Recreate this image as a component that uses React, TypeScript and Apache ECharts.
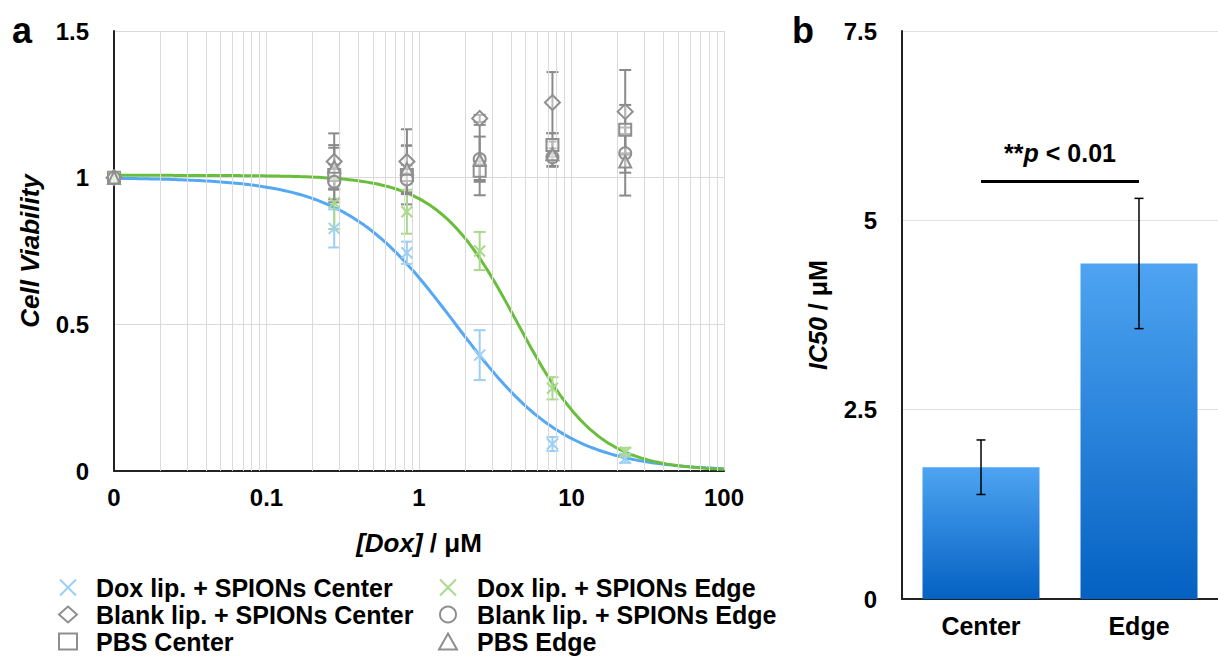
import React, { useEffect, useRef } from 'react';
import * as echarts from 'echarts';

// ---------- Panel a data ----------
const DOX_CONC = [0, 0.278, 0.833, 2.5, 7.5, 22.5]; // µM, 0 is drawn at the axis minimum
const X_AXIS_MIN = 0.01;
const X_AXIS_MAX = 100;
const X_TICK_VALUES = [0.01, 0.1, 1, 10, 100];
const X_TICK_LABELS = ['0', '0.1', '1', '10', '100'];
const X_MINOR_GRID = [
  0.02, 0.03, 0.04, 0.05, 0.06, 0.07, 0.08, 0.09,
  0.2, 0.3, 0.4, 0.5, 0.6, 0.7, 0.8, 0.9,
  2, 3, 4, 5, 6, 7, 8, 9,
  20, 30, 40, 50, 60, 70, 80, 90,
];

const DOX_CENTER_MEAN = [1.0, 0.827, 0.744, 0.395, 0.092, 0.043];
const DOX_CENTER_SD = [0, 0.065, 0.038, 0.085, 0.024, 0.015];
const DOX_EDGE_MEAN = [1.0, 0.915, 0.884, 0.75, 0.282, 0.064];
const DOX_EDGE_SD = [0, 0.09, 0.075, 0.065, 0.038, 0.015];
const BLANK_CENTER_MEAN = [1.0, 1.055, 1.055, 1.202, 1.256, 1.225];
const BLANK_CENTER_SD = [0, 0.096, 0.11, 0.012, 0.104, 0.142];
const BLANK_EDGE_MEAN = [1.0, 0.986, 0.994, 1.063, 1.07, 1.083];
const BLANK_EDGE_SD = [0, 0.06, 0.05, 0.077, 0.03, 0.066];
const PBS_CENTER_MEAN = [1.0, 1.009, 1.009, 1.024, 1.111, 1.163];
const PBS_CENTER_SD = [0, 0.093, 0.1, 0.032, 0.04, 0.085];
const PBS_EDGE_MEAN = [1.0, 1.037, 1.03, 1.06, 1.08, 1.055];
const PBS_EDGE_SD = [0, 0.074, 0.08, 0.12, 0.043, 0.116];

// ---------- Panel b data ----------
const IC50_CATEGORIES = ['Center', 'Edge'];
const IC50_MEAN = [1.74, 4.43];
const IC50_SD = [0.36, 0.86];
const SIG_LEVEL = 5.52;
const SIG_LABEL = '**p < 0.01';

// fitted dose-response (4-parameter logistic) parameters
const FIT_CENTER = { top: 1.0, bottom: 0, ic50: IC50_MEAN[0], hill: 1.19 };
const FIT_EDGE = { top: 1.008, bottom: 0, ic50: IC50_MEAN[1], hill: 1.65 };

const FONT = '"Liberation Sans", Arial, Helvetica, sans-serif';
const BLUE = '#55a8f3';
const BLUE_LIGHT = '#9ccff5';
const GREEN = '#69be3c';
const GREEN_LIGHT = '#a9da8c';
const GRAY = '#8f8f8f';

const X_SYMBOL = 'path://M0,0L10,10M10,0L0,10';

function fitCurve(p: { top: number; bottom: number; ic50: number; hill: number }) {
  const pts: number[][] = [];
  const n = 200;
  const l0 = Math.log10(X_AXIS_MIN);
  const l1 = Math.log10(X_AXIS_MAX);
  for (let i = 0; i <= n; i++) {
    const x = Math.pow(10, l0 + ((l1 - l0) * i) / n);
    const y = p.bottom + (p.top - p.bottom) / (1 + Math.pow(x / p.ic50, p.hill));
    pts.push([x, y]);
  }
  return pts;
}

const plotX = (c: number) => (c === 0 ? X_AXIS_MIN : c);

function errorBars(
  id: string,
  xs: any[],
  means: number[],
  sds: number[],
  color: string,
  axisIndex: number,
  capHalf: number,
  lineWidth: number,
  z: number,
  categorical = false
) {
  const data: number[][] = [];
  means.forEach((m, i) => {
    if (sds[i] > 0) data.push([categorical ? i : plotX(xs[i]), m - sds[i], m + sds[i]]);
  });
  return {
    id,
    type: 'custom',
    xAxisIndex: axisIndex,
    yAxisIndex: axisIndex,
    silent: true,
    z,
    encode: { x: 0, y: [1, 2] },
    data,
    renderItem: (_params: any, api: any) => {
      const x = api.value(0);
      const lo = api.coord([x, api.value(1)]);
      const hi = api.coord([x, api.value(2)]);
      const style = { stroke: color, lineWidth };
      return {
        type: 'group',
        children: [
          { type: 'line', shape: { x1: hi[0], y1: hi[1], x2: lo[0], y2: lo[1] }, style },
          { type: 'line', shape: { x1: hi[0] - capHalf, y1: hi[1], x2: hi[0] + capHalf, y2: hi[1] }, style },
          { type: 'line', shape: { x1: lo[0] - capHalf, y1: lo[1], x2: lo[0] + capHalf, y2: lo[1] }, style },
        ],
      };
    },
  };
}

function scatter(name: string, means: number[], symbol: string, size: number, color: string, fill: string) {
  return {
    name,
    type: 'scatter',
    xAxisIndex: 0,
    yAxisIndex: 0,
    symbol,
    symbolSize: size,
    z: 5,
    itemStyle: { color: fill, borderColor: color, borderWidth: 2, opacity: 1 },
    data: DOX_CONC.map((c, i) => [plotX(c), means[i]]),
  };
}

const GROUPS = [
  { name: 'Dox lip. + SPIONs Center', mean: DOX_CENTER_MEAN, sd: DOX_CENTER_SD, symbol: X_SYMBOL, size: 11, color: BLUE_LIGHT, fill: 'rgba(0,0,0,0)' },
  { name: 'Blank lip. + SPIONs Center', mean: BLANK_CENTER_MEAN, sd: BLANK_CENTER_SD, symbol: 'diamond', size: 15, color: GRAY, fill: 'rgba(255,255,255,0.4)' },
  { name: 'PBS Center', mean: PBS_CENTER_MEAN, sd: PBS_CENTER_SD, symbol: 'rect', size: 12, color: GRAY, fill: 'rgba(255,255,255,0.4)' },
  { name: 'Dox lip. + SPIONs Edge', mean: DOX_EDGE_MEAN, sd: DOX_EDGE_SD, symbol: X_SYMBOL, size: 11, color: GREEN_LIGHT, fill: 'rgba(0,0,0,0)' },
  { name: 'Blank lip. + SPIONs Edge', mean: BLANK_EDGE_MEAN, sd: BLANK_EDGE_SD, symbol: 'circle', size: 12, color: GRAY, fill: 'rgba(255,255,255,0.4)' },
  { name: 'PBS Edge', mean: PBS_EDGE_MEAN, sd: PBS_EDGE_SD, symbol: 'triangle', size: 12, color: GRAY, fill: 'rgba(255,255,255,0.4)' },
];

export default function App() {
  const ref = useRef<HTMLDivElement>(null);

  useEffect(() => {
    if (!ref.current) return;
    const chart = echarts.init(ref.current, undefined, { renderer: 'svg' });

    const tickLabel = { fontSize: 24, fontWeight: 'bold', color: '#000', fontFamily: FONT };
    const legendText = { fontSize: 25, fontWeight: 'bold', color: '#000', fontFamily: FONT };
    const nameBold = { fontSize: 26, fontWeight: 'bold', color: '#000', fontFamily: FONT };
    const nameItalic = { ...nameBold, fontStyle: 'italic' };
    const sigBold = { fontSize: 25, fontWeight: 'bold', color: '#000', fontFamily: FONT };

    const series: any[] = [];
    // minor log gridlines
    series.push({
      id: 'minorGrid',
      type: 'line',
      xAxisIndex: 0,
      yAxisIndex: 0,
      data: [],
      silent: true,
      markLine: {
        silent: true,
        symbol: ['none', 'none'],
        animation: false,
        label: { show: false },
        lineStyle: { color: '#dadada', width: 1, type: 'solid' },
        data: X_MINOR_GRID.map((v) => ({ xAxis: v })),
      },
    });
    series.push({
      id: 'fitCenter',
      type: 'line',
      xAxisIndex: 0,
      yAxisIndex: 0,
      showSymbol: false,
      silent: true,
      z: 3,
      lineStyle: { color: BLUE, width: 3 },
      data: fitCurve(FIT_CENTER),
    });
    series.push({
      id: 'fitEdge',
      type: 'line',
      xAxisIndex: 0,
      yAxisIndex: 0,
      showSymbol: false,
      silent: true,
      z: 3,
      lineStyle: { color: GREEN, width: 3 },
      data: fitCurve(FIT_EDGE),
    });
    GROUPS.forEach((g, i) => {
      series.push(errorBars('err' + i, DOX_CONC, g.mean, g.sd, g.color === GRAY ? '#8a8a8a' : g.color, 0, 6, 2, 4));
    });
    GROUPS.forEach((g) => {
      series.push(scatter(g.name, g.mean, g.symbol, g.size, g.color, g.fill));
    });

    // panel b
    series.push({
      id: 'ic50',
      type: 'bar',
      xAxisIndex: 1,
      yAxisIndex: 1,
      barWidth: 117,
      silent: true,
      itemStyle: {
        color: new echarts.graphic.LinearGradient(0, 0, 0, 1, [
          { offset: 0, color: '#4ea4f2' },
          { offset: 1, color: '#0461c2' },
        ]),
      },
      data: IC50_MEAN,
      markLine: {
        silent: true,
        symbol: ['none', 'none'],
        animation: false,
        lineStyle: { color: '#000', width: 3, type: 'solid' },
        label: {
          show: true,
          position: 'middle',
          distance: 15,
          formatter: '{s|**}{p|p}{s| < 0.01}',
          rich: {
            s: { ...sigBold },
            p: { ...sigBold, fontStyle: 'italic' },
          },
        },
        data: [[{ coord: [0, SIG_LEVEL], name: SIG_LABEL }, { coord: [1, SIG_LEVEL] }]],
      },
    });
    series.push(errorBars('ic50err', IC50_CATEGORIES, IC50_MEAN, IC50_SD, '#000', 1, 4.5, 1.5, 4, true));

    chart.setOption({
      animation: false,
      textStyle: { fontFamily: FONT },
      grid: [
        { left: 114, top: 31, width: 610, height: 440 },
        { left: 902, top: 31, width: 328, height: 568 },
      ],
      xAxis: [
        {
          type: 'log',
          logBase: 10,
          min: X_AXIS_MIN,
          max: X_AXIS_MAX,
          gridIndex: 0,
          axisLine: { show: true, onZero: false, lineStyle: { color: '#222', width: 2 } },
          axisTick: { show: false },
          splitLine: { show: true, lineStyle: { color: '#dadada', width: 1 } },
          axisLabel: {
            ...tickLabel,
            margin: 14,
            formatter: (v: number) => {
              const idx = X_TICK_VALUES.findIndex((t) => Math.abs(Math.log10(t) - Math.log10(v)) < 1e-6);
              return idx >= 0 ? X_TICK_LABELS[idx] : '';
            },
          },
          name: '{i|[Dox]}{n| / μM}',
          nameLocation: 'middle',
          nameGap: 59,
          nameTextStyle: { rich: { i: nameItalic, n: nameBold } },
        },
        {
          type: 'category',
          gridIndex: 1,
          data: IC50_CATEGORIES,
          axisLine: { show: true, lineStyle: { color: '#222', width: 2 } },
          axisTick: { show: false },
          axisLabel: { ...tickLabel, fontSize: 25, margin: 14 },
        },
      ],
      yAxis: [
        {
          type: 'value',
          gridIndex: 0,
          min: 0,
          max: 1.5,
          interval: 0.5,
          axisLine: { show: true, lineStyle: { color: '#222', width: 2 } },
          axisTick: { show: false },
          splitLine: { show: true, lineStyle: { color: '#dadada', width: 1 } },
          axisLabel: { ...tickLabel, margin: 25 },
          name: '{i|Cell Viability}',
          nameLocation: 'middle',
          nameGap: 71,
          nameRotate: 90,
          nameTextStyle: { rich: { i: nameItalic } },
        },
        {
          type: 'value',
          gridIndex: 1,
          min: 0,
          max: 7.5,
          interval: 2.5,
          axisLine: { show: true, lineStyle: { color: '#222', width: 2 } },
          axisTick: { show: false },
          splitLine: { show: true, lineStyle: { color: '#e0e0e0', width: 1 } },
          axisLabel: { ...tickLabel, margin: 25 },
          name: '{i|IC50}{n| / μM}',
          nameLocation: 'middle',
          nameGap: 72,
          nameRotate: 90,
          nameTextStyle: { rich: { i: { ...nameItalic, fontSize: 25 }, n: { ...nameBold, fontSize: 25 } } },
        },
      ],
      legend: [
        {
          data: [GROUPS[0].name, GROUPS[1].name, GROUPS[2].name],
          orient: 'vertical',
          left: 53,
          top: 570,
          height: 110,
          itemWidth: 18,
          itemHeight: 16,
          itemGap: 2,
          selectedMode: false,
          textStyle: { ...legendText, padding: [0, 0, 0, 14] },
        },
        {
          data: [GROUPS[3].name, GROUPS[4].name, GROUPS[5].name],
          orient: 'vertical',
          left: 433,
          top: 570,
          height: 110,
          itemWidth: 18,
          itemHeight: 16,
          itemGap: 2,
          selectedMode: false,
          textStyle: { ...legendText, padding: [0, 0, 0, 15] },
        },
      ],
      graphic: [
        { type: 'text', left: 12, top: 12, style: { text: 'a', fontSize: 36, fontWeight: 'bold', fill: '#000', fontFamily: FONT } },
        { type: 'text', left: 792, top: 12, style: { text: 'b', fontSize: 36, fontWeight: 'bold', fill: '#000', fontFamily: FONT } },
      ],
      series,
    });

    return () => chart.dispose();
  }, []);

  return (
    <div
      ref={ref}
      style={{ position: 'fixed', left: 0, top: 0, width: 1218, height: 656, background: '#fff' }}
    />
  );
}
